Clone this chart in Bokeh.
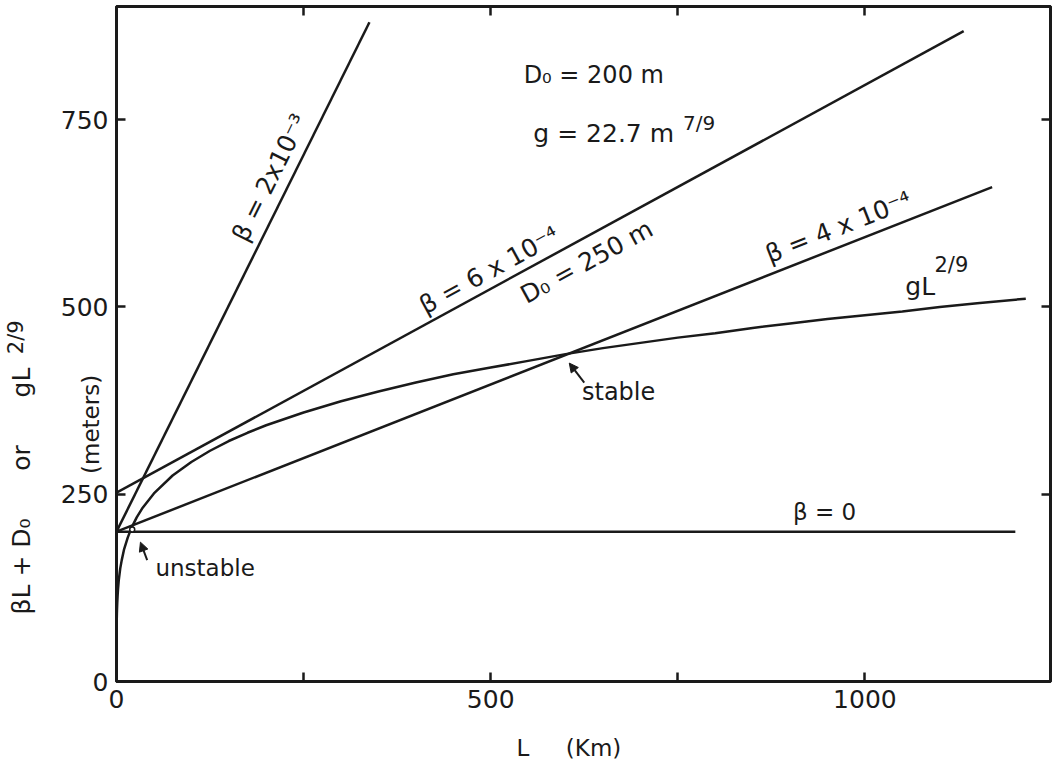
import math
import numpy as np
from bokeh.plotting import figure
from bokeh.models import Range1d, LinearAxis, FixedTicker, Label, Arrow, NormalHead
from bokeh.embed import file_html
from bokeh.resources import INLINE

# ---------------- data ----------------
# g L^(2/9) curve, L in km, value in metres
L_curve = [0, 0.01, 0.05, 0.1, 0.2, 0.3, 0.5, 0.7, 1, 1.5,
           2, 3, 5, 7, 10, 15, 20, 27, 35, 50,
           75, 100, 125, 150, 175, 200, 250, 300, 350, 400,
           450, 500, 550, 600, 650, 700, 750, 800, 850, 900,
           950, 1000, 1050, 1100, 1150, 1215]
gL_curve = [0, 38, 54, 63, 74, 81, 90, 97, 105, 115,
            123, 135, 151, 162, 176, 192, 205, 219, 232, 251,
            275, 293, 308, 321, 332, 342, 359, 374, 387, 399,
            410, 419, 428, 437, 445, 452, 459, 465, 472, 478,
            484, 489, 494, 500, 505, 511]

# straight lines beta*L + D0
L_beta0 = [0, 1201]
D_beta0 = [200, 200]
L_beta4 = [0, 1170]
D_beta4 = [200, 660]
L_beta6 = [0, 1132]
D_beta6 = [252, 868]
L_beta2 = [0, 338]
D_beta2 = [200, 880]

unstable_L = [21]
unstable_D = [203]

x_ticks = [0, 250, 500, 750, 1000]
x_tick_labels = {0: "0", 250: "", 500: "500", 750: "", 1000: "1000"}
y_ticks = [0, 250, 500, 750]
y_tick_labels = {0: "0", 250: "250", 500: "500", 750: "750"}

X_MAX = 1248
Y_MAX = 901

F = "DejaVu Sans"
INK = "#1a1a1a"
NB = "\u00a0"

p = figure(width=1058, height=763, x_range=Range1d(0, X_MAX), y_range=Range1d(0, Y_MAX),
           output_backend="svg", toolbar_location=None,
           min_border_left=116, min_border_right=8, min_border_top=6, min_border_bottom=82,
           x_axis_location=None, y_axis_location=None)
p.background_fill_color = "white"
p.border_fill_color = "white"
p.xgrid.visible = False
p.ygrid.visible = False
p.outline_line_color = INK
p.outline_line_width = 3


def mk_axis(ticks, overrides, show_labels):
    ax = LinearAxis(ticker=FixedTicker(ticks=ticks), major_label_overrides=overrides)
    ax.axis_line_color = INK
    ax.axis_line_width = 3
    ax.major_tick_in = 9
    ax.major_tick_out = 0
    ax.major_tick_line_width = 2.5
    ax.major_tick_line_color = INK
    ax.minor_tick_line_color = None
    ax.major_label_text_font = F
    ax.major_label_text_color = INK
    ax.axis_label_text_font = F
    ax.axis_label_text_color = INK
    ax.axis_label_text_font_style = "normal"
    if show_labels:
        ax.major_label_text_font_size = "25px"
        ax.major_label_standoff = 8
    else:
        ax.major_label_text_font_size = "0px"
        ax.major_label_standoff = 0
    return ax


def title_axis(text, size, standoff):
    ax = LinearAxis(ticker=FixedTicker(ticks=[]))
    ax.axis_line_color = None
    ax.major_tick_in = 0
    ax.major_tick_out = 0
    ax.minor_tick_line_color = None
    ax.major_label_text_font_size = "0px"
    ax.major_label_standoff = 0
    ax.axis_label = text
    ax.axis_label_text_font = F
    ax.axis_label_text_color = INK
    ax.axis_label_text_font_style = "normal"
    ax.axis_label_text_font_size = f"{size}px"
    ax.axis_label_standoff = standoff
    return ax


ax_bottom = mk_axis(x_ticks, x_tick_labels, True)
ax_bottom.axis_label = "L" + NB * 5 + "(Km)" + NB * 4
ax_bottom.axis_label_text_font_size = "23px"
ax_bottom.axis_label_standoff = 24
p.add_layout(ax_bottom, "below")

ax_left = mk_axis(y_ticks, y_tick_labels, True)
ax_left.axis_label = "(meters)" + NB * 22
ax_left.axis_label_text_font_size = "23px"
ax_left.axis_label_standoff = -46
p.add_layout(ax_left, "left")

p.add_layout(title_axis("βL + D₀" + NB * 6 + "or" + NB * 6 + "gL" + NB * 37, 25, 39), "left")
p.add_layout(title_axis(NB * 2 + "2/9", 21, -24), "left")

p.add_layout(mk_axis(x_ticks[1:], {t: "" for t in x_ticks}, False), "above")
p.add_layout(mk_axis(y_ticks[1:], {t: "" for t in y_ticks}, False), "right")

LW = 2.5
p.line(L_curve, gL_curve, line_color=INK, line_width=LW)
p.line(L_beta0, D_beta0, line_color=INK, line_width=LW)
p.line(L_beta4, D_beta4, line_color=INK, line_width=LW)
p.line(L_beta6, D_beta6, line_color=INK, line_width=LW)
p.line(L_beta2, D_beta2, line_color=INK, line_width=LW)
p.scatter(unstable_L, unstable_D, size=5, fill_color="white", line_color=INK, line_width=1.5)

px_x = 934 / X_MAX
px_y = 675 / Y_MAX


def lab(x, y, text, size, angle=0.0, align="left", baseline="middle", xo=0.0, yo=0.0):
    p.add_layout(Label(x=x, y=y, text=text, text_font=F, text_font_size=f"{size}px",
                       text_color=INK, angle=angle, text_align=align,
                       text_baseline=baseline, x_offset=xo, y_offset=yo))


def line_label(Ls, Ds, Lc, dist, text, size):
    slope = (Ds[1] - Ds[0]) / (Ls[1] - Ls[0])
    ang = math.atan2(slope * px_y, px_x)
    Dc = float(np.interp(Lc, Ls, Ds))
    lab(Lc, Dc, text, size, angle=ang, align="center", baseline="middle",
        xo=-dist * math.sin(ang), yo=dist * math.cos(ang))


line_label(L_beta2, D_beta2, 229, 20, "β = 2x10⁻³", 25)
line_label(L_beta6, D_beta6, 509, 17, "β = 6 x 10⁻⁴", 25)
line_label(L_beta6, D_beta6, 614, -22, "D₀ = 250 m", 25)
line_label(L_beta4, D_beta4, 974, 19, "β = 4 x 10⁻⁴", 25)

# free text inside the frame (data coordinates, vertically centred)
lab(544, 810, "D₀ = 200 m", 24)
lab(557, 731, "g = 22.7 m", 25)
lab(757, 745, "7/9", 20)
lab(1054, 527, "gL", 25)
lab(1093, 556, "2/9", 21)
lab(904, 226, "β = 0", 23)
lab(622, 386, "stable", 24)
lab(52, 152, "unstable", 23)

p.add_layout(Arrow(end=NormalHead(size=9, fill_color=INK, line_color=INK),
                   x_start=625, y_start=399, x_end=605, y_end=425,
                   line_color=INK, line_width=2))
p.add_layout(Arrow(end=NormalHead(size=9, fill_color=INK, line_color=INK),
                   x_start=41, y_start=162, x_end=32, y_end=186,
                   line_color=INK, line_width=2))

open("out.html", "w").write(file_html(p, INLINE))
